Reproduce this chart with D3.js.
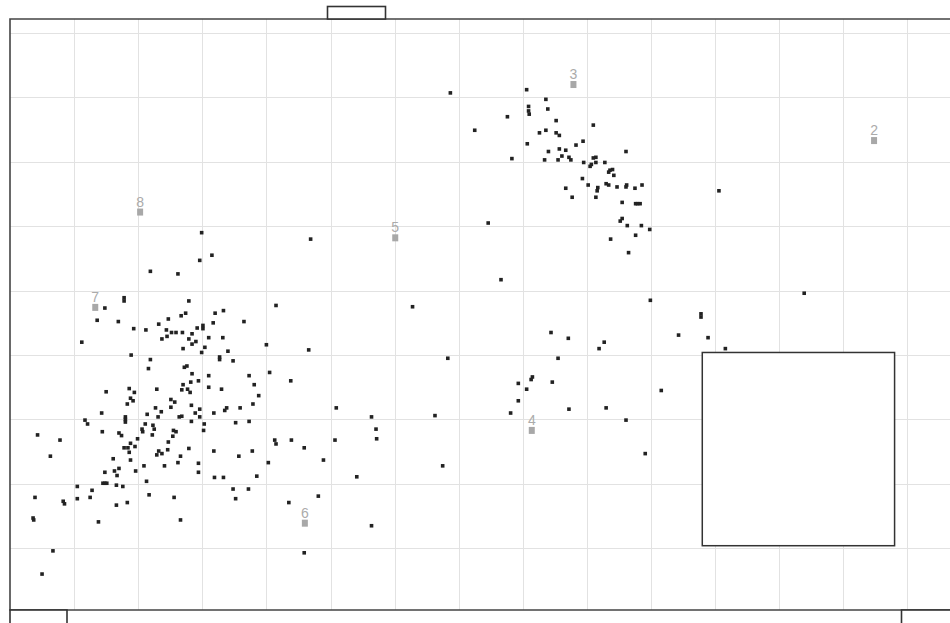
<!DOCTYPE html>
<html>
<head>
<meta charset="utf-8">
<script src="https://cdn.jsdelivr.net/npm/d3@7/dist/d3.min.js"></script>
<style>
  html, body { margin: 0; padding: 0; background: #fff; }
  svg { display: block; }
</style>
</head>
<body>
<svg id="chart" width="950" height="623"></svg>
<script>
// Grid ticks (grid units)
const xTicks = [1, 2, 3, 4, 5, 6, 7, 8, 9, 10, 11, 12, 13, 14];
const yTicks = [1, 2, 3, 4, 5, 6, 7, 8, 9];

// Observations, [x, y] in grid units
const samples = [
  [2.99,5.90],[4.69,5.80],[2.19,5.30],[2.62,5.26],[2.96,5.47],[3.15,5.55],[4.15,4.77],[6.28,4.75],
  [1.48,4.73],[1.78,4.89],[1.78,4.84],[2.79,4.84],[2.74,4.65],[2.67,4.61],[3.20,4.65],[3.33,4.69],
  [1.36,4.54],[1.69,4.52],[1.93,4.41],[2.12,4.39],[2.32,4.48],[2.47,4.56],[2.44,4.39],[2.52,4.35],
  [2.59,4.35],[2.69,4.35],[2.84,4.33],[2.92,4.42],[2.45,4.29],[2.37,4.25],[2.79,4.25],[2.90,4.21],
  [2.84,4.17],[2.70,4.10],[1.12,4.20],[3.01,4.46],[3.01,4.41],[3.17,4.50],[3.65,4.52],[3.10,4.27],
  [3.32,4.27],[3.04,4.12],[2.99,4.04],[3.40,4.06],[3.27,3.97],[3.27,3.93],[3.48,3.91],[4.00,4.16],
  [4.66,4.08],[6.83,3.95],[1.89,4.00],[2.19,3.93],[2.16,3.79],[2.72,3.81],[2.76,3.83],[2.84,3.71],
  [3.10,3.68],[3.73,3.68],[4.05,3.73],[4.38,3.60],[2.82,3.58],[2.94,3.60],[2.70,3.54],[2.68,3.46],
  [2.77,3.47],[2.81,3.42],[1.50,3.43],[1.86,3.48],[1.94,3.42],[2.29,3.47],[3.10,3.50],[3.30,3.47],
  [3.81,3.54],[3.88,3.37],[1.88,3.33],[1.92,3.29],[1.83,3.24],[2.51,3.31],[2.57,3.27],[2.51,3.19],
  [3.79,3.24],[3.59,3.18],[3.38,3.18],[3.35,3.14],[3.18,3.10],[2.96,3.16],[2.96,3.04],[2.89,3.10],
  [2.83,3.22],[2.83,2.97],[2.64,3.04],[2.68,3.05],[2.27,3.18],[2.36,3.12],[2.31,3.04],[2.14,3.08],
  [2.11,2.93],[2.23,2.91],[2.25,2.85],[2.22,2.76],[2.06,2.85],[2.07,2.81],[1.80,3.04],[1.80,3.00],
  [1.80,2.96],[1.43,3.10],[1.17,2.99],[1.21,2.93],[1.44,2.81],[1.70,2.79],[1.74,2.75],[3.52,2.95],
  [3.73,2.97],[3.03,2.93],[3.02,2.83],[2.55,2.83],[2.59,2.81],[2.54,2.74],[2.47,2.65],[2.46,2.53],
  [2.37,2.47],[2.29,2.45],[2.32,2.51],[2.79,2.55],[3.18,2.51],[3.78,2.51],[3.57,2.43],[2.66,2.43],
  [2.62,2.33],[2.94,2.32],[2.94,2.18],[2.41,2.28],[2.09,2.28],[2.13,2.04],[1.78,2.56],[1.84,2.56],
  [1.86,2.49],[1.88,2.63],[1.95,2.58],[1.99,2.70],[1.61,2.39],[1.88,2.37],[1.70,2.24],[1.63,2.20],
  [1.67,2.13],[1.48,2.18],[1.96,2.20],[1.45,2.01],[1.48,2.01],[1.51,2.01],[1.66,1.98],[1.76,1.96],
  [1.28,1.90],[1.05,1.96],[1.05,1.77],[1.25,1.79],[0.83,1.73],[0.85,1.69],[0.39,1.79],[0.43,2.76],
  [0.78,2.68],[0.63,2.43],[0.36,1.47],[0.37,1.44],[1.38,1.41],[1.66,1.67],[1.83,1.71],[2.17,1.83],
  [2.56,1.79],[2.66,1.44],[3.19,2.10],[3.33,2.10],[3.48,1.92],[3.52,1.77],[3.72,1.92],[3.85,2.12],
  [4.03,2.33],[4.13,2.68],[4.15,2.62],[4.39,2.68],[4.59,2.56],[4.89,2.37],[4.35,1.71],[4.81,1.81],
  [4.59,0.93],[0.67,0.96],[0.50,0.60],[5.09,3.18],[5.07,2.68],[5.64,3.04],[5.71,2.85],[5.72,2.70],
  [5.41,2.11],[5.64,1.35],[6.63,3.06],[6.75,2.28],
  [6.87,8.07],[7.25,7.49],[8.06,8.12],[8.36,7.97],[8.39,7.82],[8.09,7.86],[8.09,7.79],[8.10,7.74],
  [7.76,7.70],[8.52,7.64],[9.10,7.57],[8.26,7.45],[8.36,7.49],[8.52,7.45],[8.57,7.41],[8.07,7.28],
  [8.83,7.26],[8.94,7.32],[8.40,7.16],[8.57,7.20],[8.67,7.18],[8.34,7.03],[8.55,7.03],[8.61,7.09],
  [8.72,7.07],[8.75,7.03],[7.83,7.05],[8.95,6.99],[9.10,7.06],[9.14,7.07],[9.14,6.99],[9.05,6.93],
  [9.07,6.96],[9.28,6.99],[9.40,6.88],[9.36,6.87],[9.34,6.84],[9.42,6.79],[9.61,7.16],[8.93,6.74],
  [8.67,6.59],[8.77,6.45],[9.02,6.64],[9.17,6.60],[9.16,6.55],[9.14,6.45],[9.30,6.66],[9.34,6.64],
  [9.47,6.61],[9.61,6.61],[9.62,6.64],[9.75,6.59],[9.86,6.64],[9.55,6.37],[9.76,6.35],[9.79,6.35],
  [9.83,6.35],[9.55,6.12],[9.52,6.08],[9.63,6.01],[9.85,6.01],[9.98,5.95],[9.76,5.86],[9.37,5.80],
  [9.65,5.59],[7.46,6.05],[7.66,5.17],[9.99,4.85],[10.78,4.64],[10.78,4.59],[11.06,6.55],[12.39,4.96],
  [8.44,4.35],[8.71,4.26],[9.27,4.20],[9.19,4.10],[10.43,4.31],[10.89,4.27],[11.16,4.10],[8.55,3.95],
  [8.15,3.66],[8.13,3.62],[7.93,3.56],[8.06,3.47],[8.46,3.58],[7.93,3.29],[7.81,3.10],[8.72,3.16],
  [9.30,3.18],[9.61,2.99],[10.16,3.45],[9.91,2.47]
];

// Cluster centres with their labels
const centreLabels = ["2", "3", "4", "5", "6", "7", "8"];
const centreX = [13.48, 8.79, 8.14, 6.01, 4.60, 1.33, 2.03];
const centreY = [7.33, 8.20, 2.83, 5.82, 1.39, 4.74, 6.22];

// Selection rectangle (grid units)
const selection = { x0: 10.8, x1: 13.8, y0: 1.04, y1: 4.04 };

const W = 950, H = 623;
const frame = { left: 10, top: 19, bottom: 610 };

const svg = d3.select("#chart");
const x = d3.scaleLinear().domain([0, 14]).range([10, 907.4]);
const y = d3.scaleLinear().domain([0, 9]).range([612.7, 33]);

svg.append("rect").attr("width", W).attr("height", H).attr("fill", "#fff");

// Grid lines
const grid = svg.append("g").attr("stroke", "#e2e2e2").attr("stroke-width", 1);
grid.selectAll("line.v").data(xTicks).join("line")
  .attr("class", "v")
  .attr("x1", d => Math.round(x(d)) + 0.5).attr("x2", d => Math.round(x(d)) + 0.5)
  .attr("y1", frame.top).attr("y2", frame.bottom);
grid.selectAll("line.h").data(yTicks).join("line")
  .attr("class", "h")
  .attr("y1", d => Math.round(y(d)) + 0.5).attr("y2", d => Math.round(y(d)) + 0.5)
  .attr("x1", frame.left).attr("x2", W);

// Cluster centre markers and labels
const centres = centreLabels.map((l, i) => ({ label: l, x: centreX[i], y: centreY[i] }));
const cg = svg.append("g");
cg.selectAll("rect").data(centres).join("rect")
  .attr("x", d => x(d.x) - 3).attr("y", d => y(d.y) - 3.5)
  .attr("width", 6).attr("height", 7)
  .attr("fill", "#a8a8a8");
cg.selectAll("text").data(centres).join("text")
  .attr("x", d => x(d.x)).attr("y", d => y(d.y) - 5.5)
  .attr("text-anchor", "middle")
  .attr("font-family", "'Liberation Sans Narrow', 'Liberation Sans', sans-serif")
  .attr("font-size", 14)
  .attr("fill", "#ababab")
  .text(d => d.label);

// Observations
svg.append("g").selectAll("rect").data(samples).join("rect")
  .attr("x", d => x(d[0]) - 1.8).attr("y", d => y(d[1]) - 1.8)
  .attr("width", 3.6).attr("height", 3.6)
  .attr("fill", "#222");

// Selection rectangle
svg.append("rect")
  .attr("x", x(selection.x0)).attr("y", y(selection.y1))
  .attr("width", x(selection.x1) - x(selection.x0))
  .attr("height", y(selection.y0) - y(selection.y1))
  .attr("fill", "#fff").attr("stroke", "#333").attr("stroke-width", 1.5);

// Panel frame
const fr = svg.append("g").attr("fill", "none").attr("stroke", "#444").attr("stroke-width", 1.6);
fr.append("path").attr("d", `M${W},${frame.top}H${frame.left}V${frame.bottom}H${W}`);

// Handles on the frame
const handles = [
  { x: 327.5, y: 6.5, w: 58, h: 12.5 },
  { x: 10, y: 610, w: 57, h: 16 },
  { x: 901.5, y: 610, w: 60, h: 16 }
];
svg.append("g").selectAll("rect").data(handles).join("rect")
  .attr("x", d => d.x).attr("y", d => d.y).attr("width", d => d.w).attr("height", d => d.h)
  .attr("fill", "#fff").attr("stroke", "#333").attr("stroke-width", 1.6);
</script>
</body>
</html>
